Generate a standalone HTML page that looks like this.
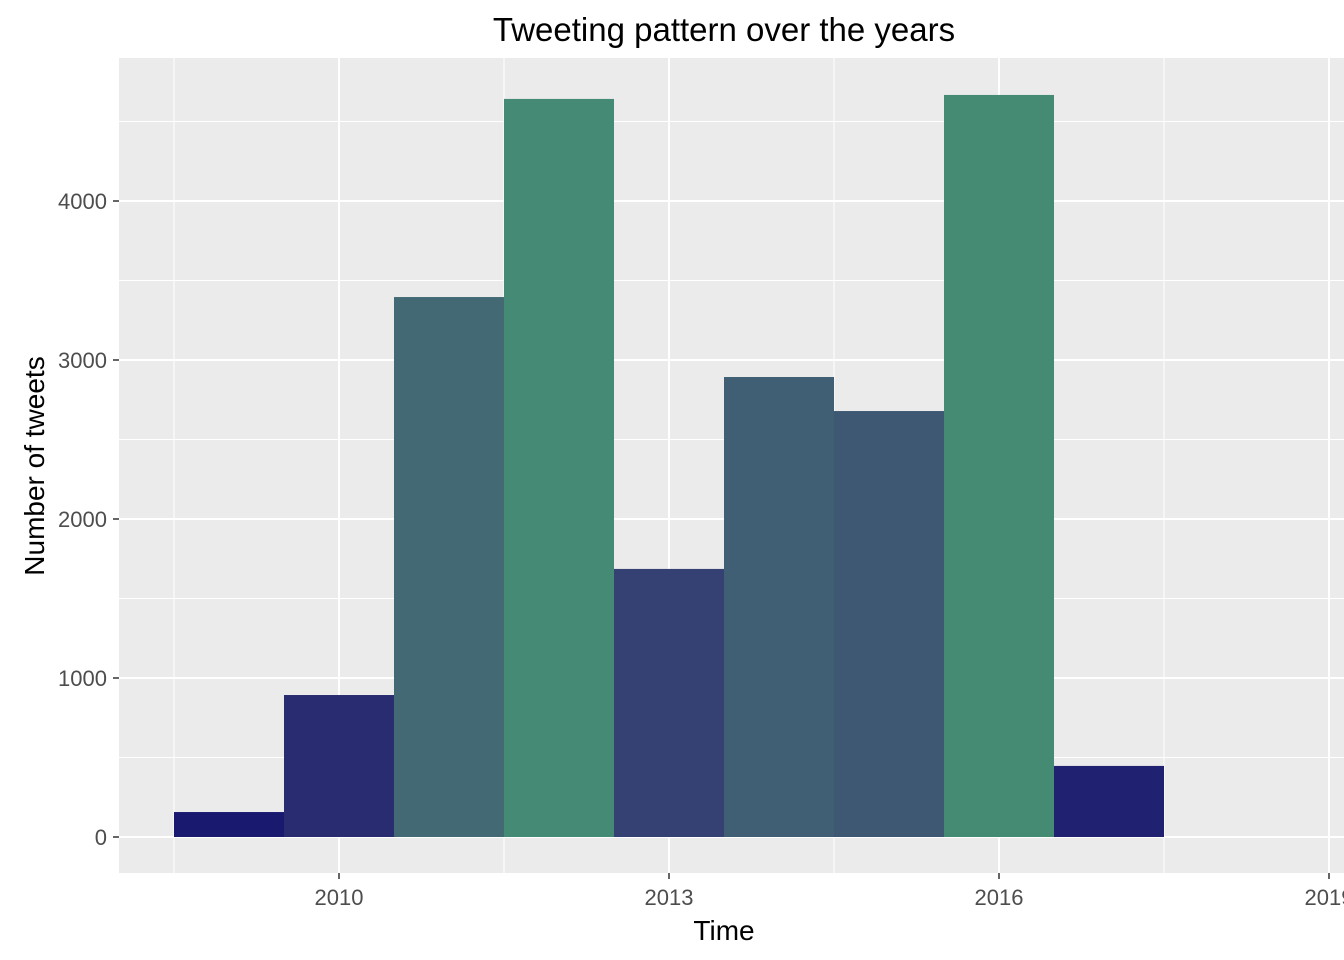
<!DOCTYPE html>
<html><head><meta charset="utf-8"><style>
body{margin:0;background:#fff;}
svg{display:block;font-family:"Liberation Sans",Arial,sans-serif;}
</style></head><body>
<svg id="chart" width="1344" height="960"></svg>
<script>
const years=[2009,2010,2011,2012,2013,2014,2015,2016,2017];
const counts=[157,893,3396,4642,1686,2893,2679,4667,447];
const yTicks=[0,1000,2000,3000,4000];
const xTicks=[2010,2013,2016,2019];

const NS="http://www.w3.org/2000/svg";
const svg=document.getElementById('chart');
const P={l:119,r:1344,t:58,b:873};
const ys=v=>837-v*0.159;
const xs=yr=>339+(yr-2010)*110;
function mk(tag,attrs,parent){const e=document.createElementNS(NS,tag);for(const k in attrs)e.setAttribute(k,attrs[k]);(parent||svg).appendChild(e);return e;}
// Lab interpolation
function toLin(c){c/=255;return c<=0.04045?c/12.92:Math.pow((c+0.055)/1.055,2.4);}
function fromLin(c){c=c<=0.0031308?12.92*c:1.055*Math.pow(c,1/2.4)-0.055;return Math.max(0,Math.min(255,Math.round(c*255)));}
function rgb2lab(rgb){const [r,g,b]=rgb.map(toLin);
let X=(0.4124*r+0.3576*g+0.1805*b)/0.95047,Y=(0.2126*r+0.7152*g+0.0722*b),Z=(0.0193*r+0.1192*g+0.9505*b)/1.08883;
const f=t=>t>0.008856?Math.cbrt(t):7.787*t+16/116;
return [116*f(Y)-16,500*(f(X)-f(Y)),200*(f(Y)-f(Z))];}
function lab2rgb(l){const fy=(l[0]+16)/116,fx=fy+l[1]/500,fz=fy-l[2]/200;
const g=t=>t*t*t>0.008856?t*t*t:(t-16/116)/7.787;
const X=g(fx)*0.95047,Y=g(fy),Z=g(fz)*1.08883;
const r=3.2406*X-1.5372*Y-0.4986*Z,gg=-0.9689*X+1.8758*Y+0.0415*Z,b=0.0557*X-0.2040*Y+1.0570*Z;
return [fromLin(r),fromLin(gg),fromLin(b)];}
const bg=mk('rect',{x:P.l,y:P.t,width:P.r-P.l,height:P.b-P.t,fill:'#ebebeb'});


for(let v=500;v<5000;v+=1000){const l=mk('line',{x1:P.l,x2:P.r,y1:ys(v),y2:ys(v),stroke:'#fff','stroke-width':1});

}
for(let yr=2008.5;yr<2020;yr+=3){const l=mk('line',{x1:xs(yr),x2:xs(yr),y1:P.t,y2:P.b,stroke:'#fff','stroke-width':1});

}
yTicks.forEach(v=>{const l=mk('line',{x1:P.l,x2:P.r,y1:ys(v),y2:ys(v),stroke:'#fff','stroke-width':2});


const t=mk('line',{x1:P.l-6,x2:P.l,y1:ys(v),y2:ys(v),stroke:'#333','stroke-width':1.5});


const tx=mk('text',{x:P.l-12,y:ys(v)+8,'text-anchor':'end','font-size':22,fill:'#4d4d4d'});tx.textContent=v;

});
xTicks.forEach(yr=>{const l=mk('line',{x1:xs(yr),x2:xs(yr),y1:P.t,y2:P.b,stroke:'#fff','stroke-width':2});


const t=mk('line',{x1:xs(yr),x2:xs(yr),y1:P.b,y2:P.b+6,stroke:'#333','stroke-width':1.5});


const tx=mk('text',{x:xs(yr),y:P.b+32,'text-anchor':'middle','font-size':22,fill:'#4d4d4d'});tx.textContent=yr;

});
const lo=rgb2lab([25,25,112]),hi=rgb2lab([69,139,116]);
const mn=Math.min(...counts),mx=Math.max(...counts);
years.forEach((yr,i)=>{const f=(counts[i]-mn)/(mx-mn);const c=lab2rgb(lo.map((a,j)=>a+(hi[j]-a)*f));
const r=mk('rect',{x:xs(yr)-55,y:ys(counts[i]),width:110,height:ys(0)-ys(counts[i]),fill:`rgb(${c})`});

});
const ti=mk('text',{x:724,y:41,'text-anchor':'middle','font-size':33,fill:'#000'});ti.textContent='Tweeting pattern over the years';


const xt=mk('text',{x:724,y:940,'text-anchor':'middle','font-size':28,fill:'#000'});xt.textContent='Time';


const yt=mk('text',{x:0,y:0,'text-anchor':'middle','font-size':28,fill:'#000',transform:'translate(44,466) rotate(-90)'});yt.textContent='Number of tweets';


</script>
</body></html>
